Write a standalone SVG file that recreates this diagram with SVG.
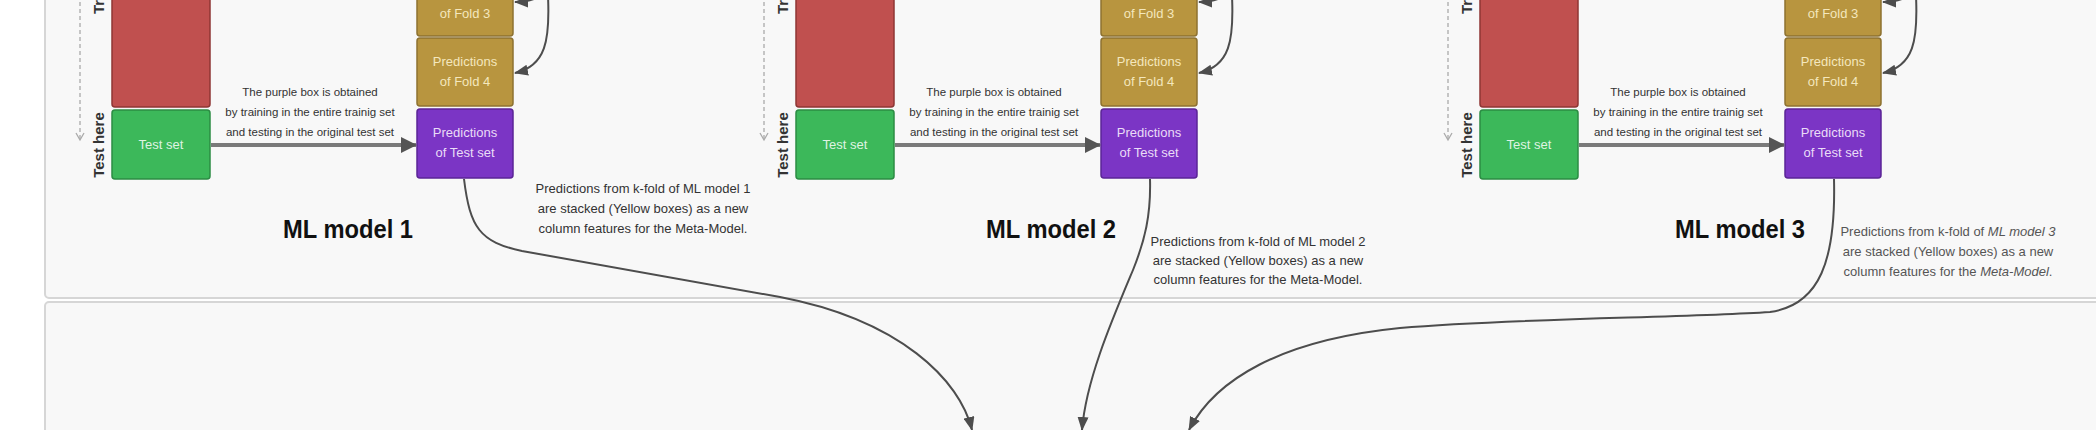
<svg xmlns="http://www.w3.org/2000/svg" width="2096" height="430" viewBox="0 0 2096 430">
<defs>
<style>
.panel{fill:#f8f8f8;stroke:#d6d6d6;stroke-width:2}
.box{stroke-width:1.5}
.red{fill:#c0504f;stroke:#8e3634}
.green{fill:#3cb85a;stroke:#2b8c43}
.gold{fill:#b8953f;stroke:#8d7130}
.purple{fill:#7b35c5;stroke:#5b2596}
.bt{font-family:"Liberation Sans",Arial,sans-serif;font-size:13px;text-anchor:middle}
.tg{fill:#dff3e2}
.ty{fill:#f4e7bd}
.tp{fill:#eadcf7}
.note{font-family:"Liberation Sans",Arial,sans-serif;font-size:11.5px;fill:#333;text-anchor:middle}
.kf{font-size:13px}
.note3{fill:#555}
.title{font-family:"Liberation Sans",Arial,sans-serif;font-size:26px;font-weight:bold;fill:#111;text-anchor:middle}
.side{font-family:"Liberation Sans",Arial,sans-serif;font-size:15px;font-weight:bold;fill:#333}
.conn{fill:none;stroke:#4d4d4d;stroke-width:2}
.thick{fill:none;stroke:#7a7a7a;stroke-width:4}
.dash{fill:none;stroke:#aaa;stroke-width:1.3;stroke-dasharray:4 3}
</style>
<marker id="ah" markerUnits="userSpaceOnUse" markerWidth="14" markerHeight="11" refX="13" refY="5.5" orient="auto"><path d="M0,0 L14,5.5 L0,11 z" fill="#4d4d4d"/></marker>
<marker id="ahBig" markerUnits="userSpaceOnUse" markerWidth="16" markerHeight="16" refX="15" refY="8" orient="auto"><path d="M0,0 L16,8 L0,16 z" fill="#555"/></marker>
<marker id="ahOpen" markerUnits="userSpaceOnUse" markerWidth="10" markerHeight="10" refX="8" refY="5" orient="auto"><path d="M1,1 L8,5 L1,9" fill="none" stroke="#aaa" stroke-width="1.3"/></marker>
</defs>
<rect x="0" y="0" width="2096" height="430" fill="#ffffff"/>
<g id="panels">
<rect class="panel" x="45" y="-20" width="2060" height="318" rx="4"/>
<rect class="panel" x="45" y="302" width="2060" height="160" rx="4"/>
</g>

<!-- Model 1 -->
<g id="model1">
<g id="m1-train"><rect class="box red" x="112" y="-30" width="98" height="137" rx="3"/></g>
<g id="m1-test"><rect class="box green" x="112" y="110" width="98" height="69" rx="3"/><text class="bt tg" x="161" y="149">Test set</text></g>
<g id="m1-fold3"><rect class="box gold" x="417" y="-32" width="96" height="68" rx="3"/><text class="bt ty" x="465" y="18">of Fold 3</text></g>
<g id="m1-fold4"><rect class="box gold" x="417" y="38" width="96" height="68" rx="3"/><text class="bt ty" x="465" y="66">Predictions</text><text class="bt ty" x="465" y="86">of Fold 4</text></g>
<g id="m1-predtest"><rect class="box purple" x="417" y="109" width="96" height="69" rx="3"/><text class="bt tp" x="465" y="137">Predictions</text><text class="bt tp" x="465" y="157">of Test set</text></g>
<g id="m1-labels">
<text class="side" transform="translate(104,14) rotate(-90)">Tr</text>
<text class="side" transform="translate(104,145) rotate(-90)" text-anchor="middle">Test here</text>
<text class="note" x="310" y="96">The purple box is obtained</text>
<text class="note" x="310" y="116">by training in the entire trainig set</text>
<text class="note" x="310" y="136">and testing in the original test set</text>
<text class="title" x="348" y="238" textLength="130" lengthAdjust="spacingAndGlyphs">ML model 1</text>
<text class="note kf" x="643" y="193">Predictions from k-fold of ML model 1</text>
<text class="note kf" x="643" y="213">are stacked (Yellow boxes) as a new</text>
<text class="note kf" x="643" y="233">column features for the Meta-Model.</text>
</g>
</g>

<!-- Model 2 -->
<g id="model2">
<g id="m2-train"><rect class="box red" x="796" y="-30" width="98" height="137" rx="3"/></g>
<g id="m2-test"><rect class="box green" x="796" y="110" width="98" height="69" rx="3"/><text class="bt tg" x="845" y="149">Test set</text></g>
<g id="m2-fold3"><rect class="box gold" x="1101" y="-32" width="96" height="68" rx="3"/><text class="bt ty" x="1149" y="18">of Fold 3</text></g>
<g id="m2-fold4"><rect class="box gold" x="1101" y="38" width="96" height="68" rx="3"/><text class="bt ty" x="1149" y="66">Predictions</text><text class="bt ty" x="1149" y="86">of Fold 4</text></g>
<g id="m2-predtest"><rect class="box purple" x="1101" y="109" width="96" height="69" rx="3"/><text class="bt tp" x="1149" y="137">Predictions</text><text class="bt tp" x="1149" y="157">of Test set</text></g>
<g id="m2-labels">
<text class="side" transform="translate(788,14) rotate(-90)">Tr</text>
<text class="side" transform="translate(788,145) rotate(-90)" text-anchor="middle">Test here</text>
<text class="note" x="994" y="96">The purple box is obtained</text>
<text class="note" x="994" y="116">by training in the entire trainig set</text>
<text class="note" x="994" y="136">and testing in the original test set</text>
<text class="title" x="1051" y="238" textLength="130" lengthAdjust="spacingAndGlyphs">ML model 2</text>
<text class="note kf" x="1258" y="246">Predictions from k-fold of ML model 2</text>
<text class="note kf" x="1258" y="265">are stacked (Yellow boxes) as a new</text>
<text class="note kf" x="1258" y="284">column features for the Meta-Model.</text>
</g>
</g>

<!-- Model 3 -->
<g id="model3">
<g id="m3-train"><rect class="box red" x="1480" y="-30" width="98" height="137" rx="3"/></g>
<g id="m3-test"><rect class="box green" x="1480" y="110" width="98" height="69" rx="3"/><text class="bt tg" x="1529" y="149">Test set</text></g>
<g id="m3-fold3"><rect class="box gold" x="1785" y="-32" width="96" height="68" rx="3"/><text class="bt ty" x="1833" y="18">of Fold 3</text></g>
<g id="m3-fold4"><rect class="box gold" x="1785" y="38" width="96" height="68" rx="3"/><text class="bt ty" x="1833" y="66">Predictions</text><text class="bt ty" x="1833" y="86">of Fold 4</text></g>
<g id="m3-predtest"><rect class="box purple" x="1785" y="109" width="96" height="69" rx="3"/><text class="bt tp" x="1833" y="137">Predictions</text><text class="bt tp" x="1833" y="157">of Test set</text></g>
<g id="m3-labels">
<text class="side" transform="translate(1472,14) rotate(-90)">Tr</text>
<text class="side" transform="translate(1472,145) rotate(-90)" text-anchor="middle">Test here</text>
<text class="note" x="1678" y="96">The purple box is obtained</text>
<text class="note" x="1678" y="116">by training in the entire trainig set</text>
<text class="note" x="1678" y="136">and testing in the original test set</text>
<text class="title" x="1740" y="238" textLength="130" lengthAdjust="spacingAndGlyphs">ML model 3</text>
<text class="note kf note3" x="1948" y="236">Predictions from k-fold of <tspan font-style="italic">ML model 3</tspan></text>
<text class="note kf note3" x="1948" y="256">are stacked (Yellow boxes) as a new</text>
<text class="note kf note3" x="1948" y="276">column features for the <tspan font-style="italic">Meta-Model</tspan>.</text>
</g>
</g>

<g id="connectors">
<path class="dash" d="M80,-5 L80,140" marker-end="url(#ahOpen)"/>
<path class="dash" d="M764,-5 L764,140" marker-end="url(#ahOpen)"/>
<path class="dash" d="M1448,-5 L1448,140" marker-end="url(#ahOpen)"/>
<path class="thick" d="M211,145 L416,145" marker-end="url(#ahBig)"/>
<path class="thick" d="M895,145 L1100,145" marker-end="url(#ahBig)"/>
<path class="thick" d="M1579,145 L1784,145" marker-end="url(#ahBig)"/>
<path class="conn" d="M545,-12 Q540,2 515,2" marker-end="url(#ah)"/>
<path class="conn" d="M548,-4 C550,40 546,66 515,73" marker-end="url(#ah)"/>
<path class="conn" d="M1229,-12 Q1224,2 1199,2" marker-end="url(#ah)"/>
<path class="conn" d="M1232,-4 C1234,40 1230,66 1199,73" marker-end="url(#ah)"/>
<path class="conn" d="M1913,-12 Q1908,2 1883,2" marker-end="url(#ah)"/>
<path class="conn" d="M1916,-4 C1918,40 1914,66 1883,73" marker-end="url(#ah)"/>
<path class="conn" d="M464,179 C470,228 480,242 522,251 L780,297 C900,320 960,380 972,430" marker-end="url(#ah)"/>
<path class="conn" d="M1150,179 C1151,215 1145,240 1133,270 C1112,320 1086,380 1082,430" marker-end="url(#ah)"/>
<path class="conn" d="M1834,179 C1836,260 1820,305 1770,312 C1680,318 1520,318 1400,328 C1280,340 1215,380 1189,430" marker-end="url(#ah)"/>
</g>
</svg>
